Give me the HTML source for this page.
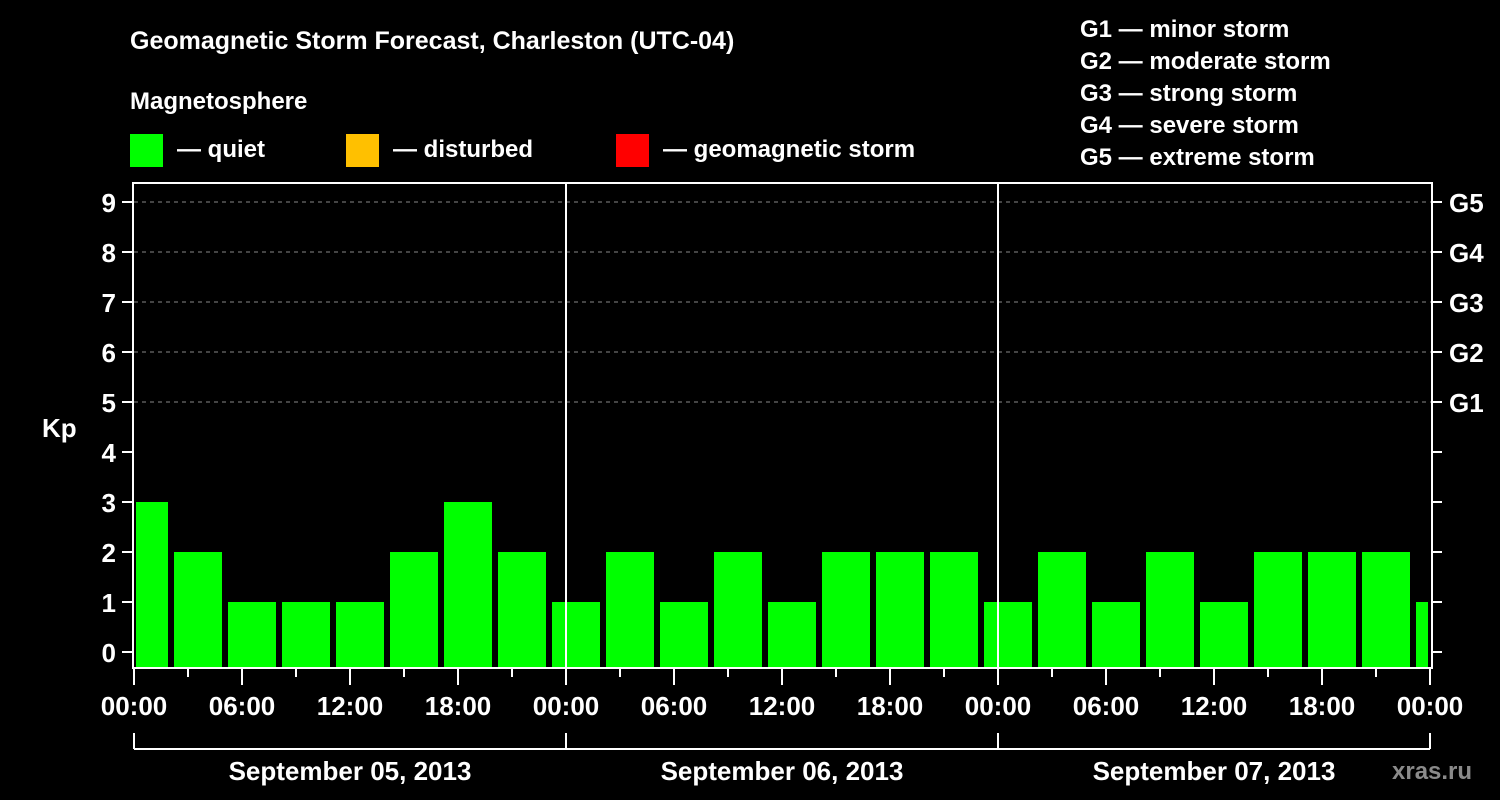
<!DOCTYPE html>
<html><head><meta charset="utf-8"><style>
body{margin:0;background:#000;width:1500px;height:800px;overflow:hidden}
svg{display:block}
text{font-family:"Liberation Sans",sans-serif;font-weight:bold;fill:#fff}
</style></head><body>
<svg id="c" width="1500" height="800">
<text x="130" y="49" font-size="25">Geomagnetic Storm Forecast, Charleston (UTC-04)</text>
<text x="130" y="109" font-size="24">Magnetosphere</text>
<g><rect x="130" y="134" width="33" height="33" fill="#00ff00"/><text x="177" y="157" font-size="24">— quiet</text></g>
<g><rect x="346" y="134" width="33" height="33" fill="#ffc000"/><text x="393" y="157" font-size="24">— disturbed</text></g>
<g><rect x="616" y="134" width="33" height="33" fill="#ff0000"/><text x="663" y="157" font-size="24">— geomagnetic storm</text></g>
<g font-size="24">
<text x="1080" y="37">G1 — minor storm</text>
<text x="1080" y="69">G2 — moderate storm</text>
<text x="1080" y="101">G3 — strong storm</text>
<text x="1080" y="133">G4 — severe storm</text>
<text x="1080" y="165">G5 — extreme storm</text>
</g>
<text x="42" y="437" font-size="26">Kp</text>
<text x="1392" y="779" font-size="24" fill="#888" style="fill:#8a8a8a">xras.ru</text>
<g id="plot"></g>
</svg>
<script>
const yTicks=[0,1,2,3,4,5,6,7,8,9];
const gLabels=["G1","G2","G3","G4","G5"];
const gLevels=[5,6,7,8,9];
const dayLabels=["September 05, 2013","September 06, 2013","September 07, 2013"];
const binStartHours=[-1,2,5,8,11,14,17,20,23,26,29,32,35,38,41,44,47,50,53,56,59,62,65,68,71];
const kpValues=[3,2,1,1,1,2,3,2,1,2,1,2,1,2,2,2,1,2,1,2,1,2,2,2,1];
const xTickLabels=["00:00","06:00","12:00","18:00"];

const L=134,R=1432,T=183,B=668,NS="http://www.w3.org/2000/svg";
const x=h=>L+h*18;
const y=v=>652-v*50;
const g=document.getElementById('plot');
function el(t,a,p){const e=document.createElementNS(NS,t);for(const k in a)e.setAttribute(k,a[k]);(p||g).appendChild(e);return e;}

gLevels.forEach((v,i)=>{
 const ln=el('line',{x1:L,x2:R,y1:y(v),y2:y(v),stroke:'#888','stroke-dasharray':'4,4','stroke-width':1});
 
 
 const t=el('text',{x:1449,y:y(v)+10,'font-size':26});
 t.textContent=gLabels[i];
 
 
});
binStartHours.forEach((h,i)=>{
 const x0=Math.max(x(h)+4,L+2),x1=Math.min(x(h+3)-2,R-4);
 const r=el('rect',{x:x0,y:y(kpValues[i]),width:x1-x0,height:B-y(kpValues[i]),fill:'#00ff00'});
 
 
});
[1,2].forEach(d=>{
 const ln=el('line',{x1:x(24*d),x2:x(24*d),y1:T,y2:B,stroke:'#fff','stroke-width':2});
 
 
});
const fr=el('rect',{x:L-1,y:T,width:R-L+1,height:B-T,fill:'none',stroke:'#fff','stroke-width':2});


yTicks.forEach(v=>{
 el('line',{x1:L-12,x2:L-1,y1:y(v),y2:y(v),stroke:'#fff','stroke-width':2});
 el('line',{x1:R,x2:R+10,y1:y(v),y2:y(v),stroke:'#fff','stroke-width':2});
 const t=el('text',{x:L-18,y:y(v)+10,'font-size':26,'text-anchor':'end'});
 t.textContent=v;
 
 
});
for(let h=0;h<=72;h+=3){
 const major=h%6===0;
 el('line',{x1:x(h),x2:x(h),y1:B,y2:B+(major?17:9),stroke:'#fff','stroke-width':2});
 if(major){
  const t=el('text',{x:x(h),y:B+47,'font-size':26,'text-anchor':'middle'});
  t.textContent=xTickLabels[(h%24)/6];
  
  
 }
}
el('line',{x1:x(0),x2:x(72),y1:749,y2:749,stroke:'#fff','stroke-width':2});
dayLabels.forEach((d,i)=>{
 el('line',{x1:x(24*i),x2:x(24*i),y1:733,y2:749,stroke:'#fff','stroke-width':2});
 const t=el('text',{x:x(24*i+12),y:780,'font-size':26,'text-anchor':'middle'});
 t.textContent=d;
 
 
});
el('line',{x1:x(72),x2:x(72),y1:733,y2:749,stroke:'#fff','stroke-width':2});
</script>
</body></html>
